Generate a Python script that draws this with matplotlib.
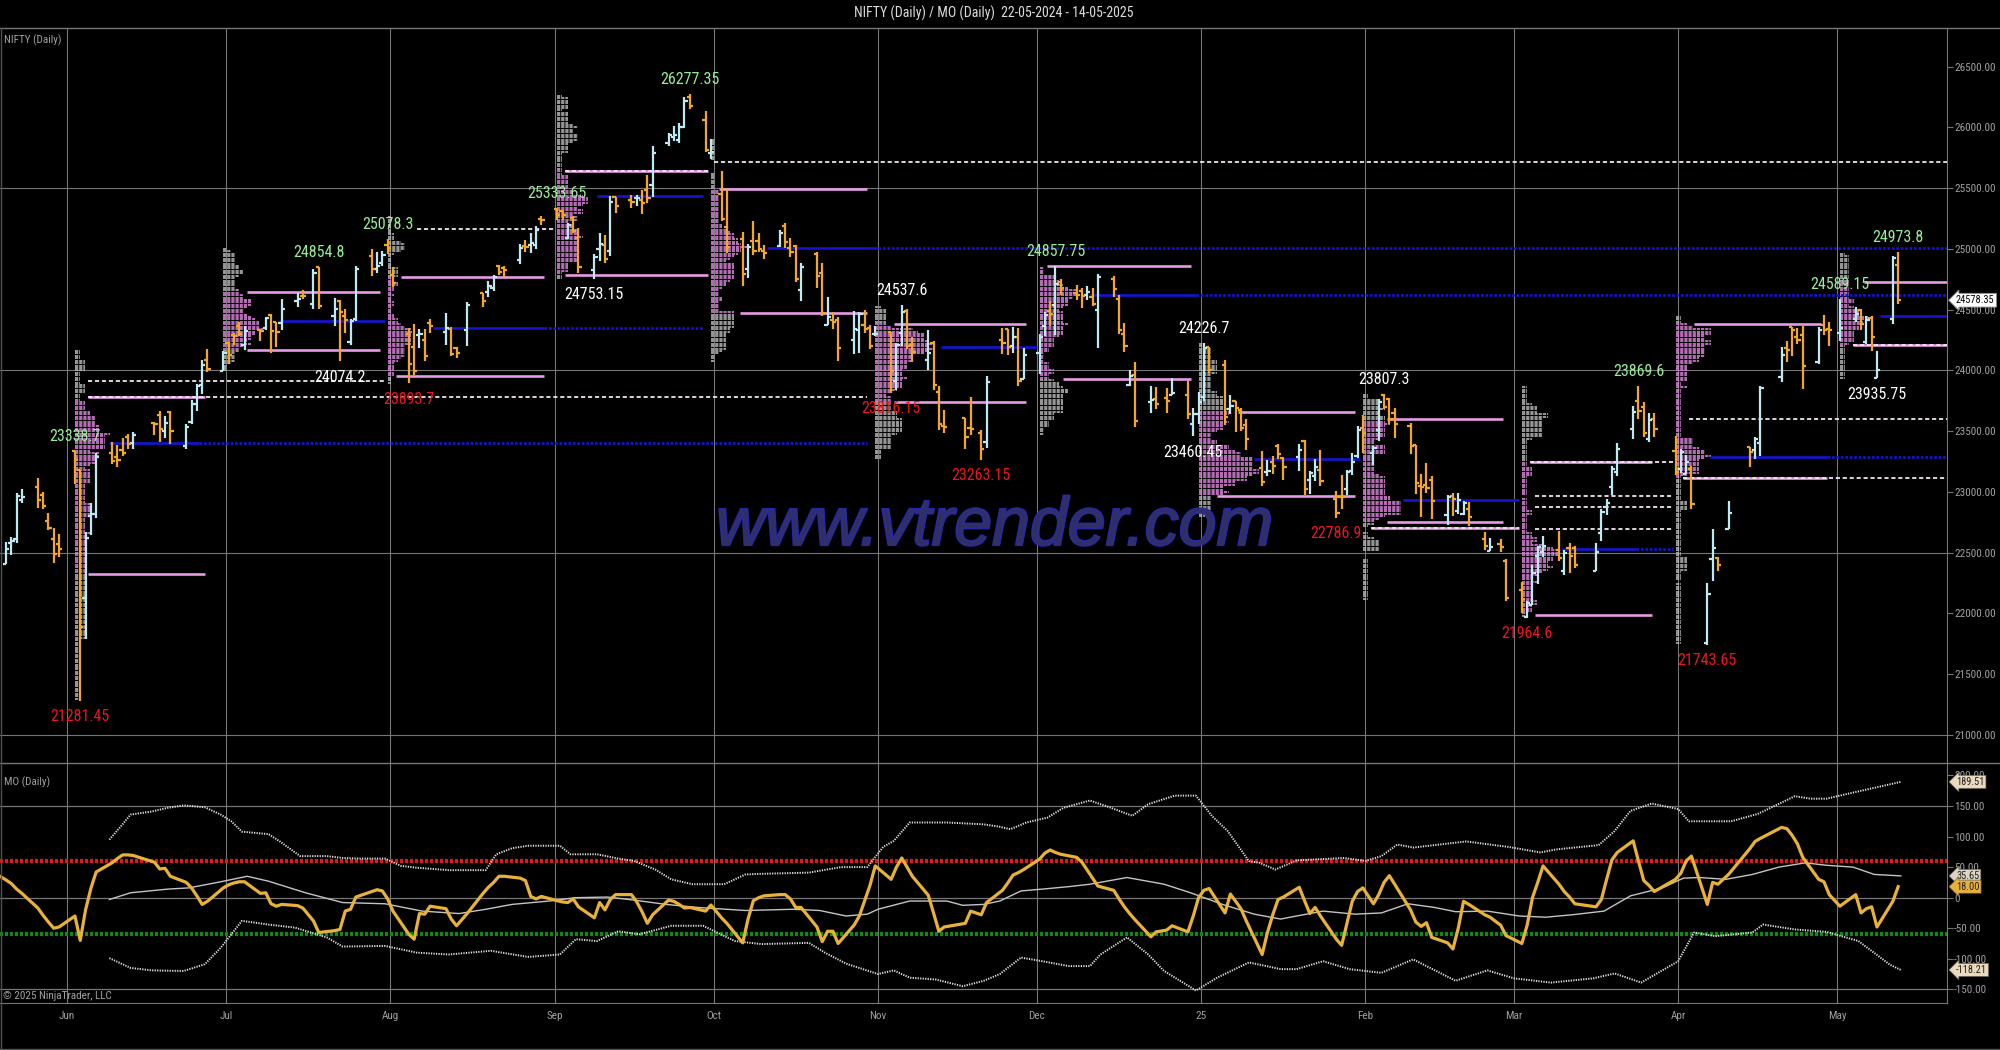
import numpy as np
import pandas as pd
import matplotlib
matplotlib.use('Agg')
import matplotlib.pyplot as plt
import matplotlib.dates as mdates
import matplotlib.patheffects as pe
from matplotlib import font_manager
from matplotlib.collections import LineCollection
from matplotlib.lines import Line2D
from matplotlib.transforms import blended_transform_factory

plt.rcParams['lines.scale_dashes'] = False
installed = {f.name for f in font_manager.fontManager.ttflist}
NARROW = next((n for n in ['Liberation Sans Narrow', 'Roboto Condensed', 'DejaVu Sans Condensed']
               if n in installed), 'DejaVu Sans')
plt.rcParams['font.family'] = [NARROW, 'DejaVu Sans']

# NSE trading days in the window (holidays removed, Saturday budget session added)
holidays = ['2024-05-20', '2024-06-17', '2024-07-17', '2024-08-15', '2024-10-02', '2024-11-15',
            '2024-11-20', '2024-12-25', '2025-02-26', '2025-03-14', '2025-03-31', '2025-04-10',
            '2025-04-14', '2025-04-18', '2025-05-01']
dates = pd.bdate_range('2024-05-17', '2025-05-13', freq='C', holidays=holidays)
dates = dates.union(pd.DatetimeIndex(['2025-02-01']))

opens = [
    22415, 22404, 22577, 22614, 22931, 23039, 22977, 22763, 22617, 22568,
    23338, 23180, 22128, 22799, 22822, 23319, 23284, 23344, 23454, 23400, 23571, 23630, 23500, 23661, 23382, 23577, 23723, 23882, 24086,
    23993, 24229, 24292, 24370, 24213, 24329, 24351, 24460, 24397, 24388, 24573, 24616, 24544, 24854, 24446, 24569, 24445, 24231, 24423, 24943, 24839, 24887,
    25031, 24789, 24303, 24190, 24289, 24249, 24387, 24320, 24342, 24184, 24335, 24636, 24649, 24681, 24863, 24845, 24906, 25025, 25031, 25035, 25250,
    25333, 25313, 25090, 25251, 25094, 24823, 24999, 25034, 24986, 25430, 25407, 25417, 25402, 25487, 25526, 25873, 25921, 25899, 26005, 26248, 26061,
    25788, 25453, 25182, 25084, 24832, 25066, 25067, 24985, 25023, 25186, 25009, 25027, 24665, 24956, 24799, 24378, 24413, 24418, 24251, 24329, 24371, 24350,
    24303, 24316, 23917, 24309, 24490, 24208, 24087, 24226, 23822, 23542, 23605, 23530, 23488, 23412, 24254, 24343, 24205, 24274, 23927,
    24141, 24368, 24489, 24539, 24729, 24634, 24653, 24621, 24604, 24498, 24753, 24585, 24298, 23877, 23961, 23738, 23769, 23776, 23801, 23797, 23561,
    23638, 23783, 24196, 24046, 23680, 23747, 23675, 23552, 23195, 23166, 23250, 23377, 23277, 23290, 23422, 23099, 23128, 23184, 22940, 22960, 23027, 23170, 23297,
    23529, 23319, 23510, 23802, 23762, 23650, 23544, 23384, 23051, 23056, 23096, 22810, 22964, 22847, 22821, 22857, 22609, 22516, 22569, 22433,
    22195, 21974, 22073, 22476, 22509, 22522, 22346, 22536, 22542, 22353, 22662, 22875, 23037, 23168, 23515, 23752, 23701, 23433, 23600,
    23341, 23193, 23150, 23190, 21758, 22447, 22460, 22695, 23368, 23344, 23402, 23949, 24185, 24358, 24278, 24289, 24070, 24371, 24342,
    24312, 24420, 24501, 24233, 24432, 23936, 24420, 24864]
highs = [
    22502, 22591, 22630, 22994, 23026, 23111, 22999, 22826, 22706, 22654,
    23338.7, 23180, 22670, 22910, 23320, 23412, 23389, 23442, 23481, 23490, 23579, 23664, 23624, 23667, 23558, 23754, 23890, 24087, 24174,
    24164, 24236, 24309, 24401, 24363, 24345, 24444, 24461, 24403, 24592, 24635, 24661, 24838, 24854.8, 24595, 24583, 24504, 24426, 24861, 25000, 24972, 24985,
    25078.3, 24852, 24350, 24383, 24338, 24341, 24420, 24473, 24360, 24197, 24564, 24639, 24734, 24788, 24867, 24858, 25044, 25073, 25130, 25193, 25268,
    25333.65, 25322, 25216, 25275, 25169, 24958, 25131, 25114, 25433, 25431, 25446, 25442, 25482, 25612, 25849, 25956, 26012, 26033, 26251, 26277.35, 26135,
    25908, 25639, 25485, 25143, 25044, 25234, 25134, 25029, 25160, 25212, 25093, 25030, 24886, 24978, 24882, 24604, 24481, 24440, 24493, 24485, 24498, 24372,
    24368, 24317, 24229, 24537.6, 24503, 24276, 24337, 24242, 23874, 23676, 23607, 23781, 23507, 23956, 24352, 24343, 24355, 24346, 24188,
    24302, 24481, 24573, 24857.75, 24751, 24705, 24678, 24692, 24675, 24792, 24781, 24624, 24394, 24005, 24066, 23870, 23868, 23855, 23939, 23915, 23690,
    23823, 24226.7, 24196, 24090, 23795, 23752, 23690, 23597, 23341, 23265, 23294, 23391, 23292, 23391, 23426, 23170, 23271, 23347, 23007, 23138, 23183, 23322, 23547,
    23632, 23382, 23763, 23807.3, 23774, 23695, 23569, 23390, 23145, 23236, 23134, 22974, 22993, 22993, 22924, 22921, 22668, 22625, 22613, 22450,
    22262, 22105, 22395, 22557, 22634, 22677, 22522, 22577, 22558, 22577, 22858, 22941, 23217, 23403, 23709, 23869.6, 23737, 23646, 23649,
    23459, 23350, 23307, 23215, 22254, 22697, 22469, 22924, 23368, 23452, 23872, 24190, 24243, 24359, 24348, 24365, 24355, 24458, 24396,
    24589.15, 24526, 24510, 24450, 24447, 24164, 24945, 24973.8]
lows = [
    22346, 22404, 22483, 22578, 22908, 22871, 22859, 22686, 22417, 22465,
    23062, 21281.45, 21792, 22643, 22789, 23227, 23207, 23296, 23354, 23354, 23472, 23413, 23443, 23398, 23350, 23562, 23670, 23805, 23986,
    23993, 24056, 24207, 24281, 24169, 24241, 24332, 24142, 24194, 24331, 24522, 24588, 24504, 24508, 24362, 24074.2, 24307, 24211, 24411, 24775, 24799, 24857,
    24956, 24687, 23893.7, 23960, 24185, 24080, 24311, 24212, 24117, 24100, 24205, 24523, 24607, 24655, 24784, 24772, 24875, 24974, 24965, 24999, 25199,
    25236, 25236, 25084, 25128, 24801, 24753.15, 24897, 24885, 24941, 25292, 25336, 25352, 25286, 25376, 25427, 25847, 25887, 25871, 25998, 26151, 25794,
    25739, 25230, 24967, 24694, 24757, 24948, 24979, 24920, 25018, 25008, 24930, 24729, 24568, 24680, 24446, 24378, 24341, 24074, 24135, 24141, 24307, 24173,
    24280, 23816.15, 23843, 24204, 24179, 24067, 24005, 23839, 23510, 23484, 23350, 23465, 23263.15, 23359, 24135, 24125, 24146, 23873, 23927,
    23970, 24280, 24366, 24296, 24621, 24580, 24511, 24584, 24528, 24181, 24602, 24303, 24150, 23870, 23537, 23647, 23685, 23654, 23801, 23599, 23460.45,
    23563, 23752, 23976, 23552, 23638, 23496, 23503, 23344, 23047, 23134, 23146, 23272, 23100, 23171, 22977, 22981, 23091, 23050, 22786.9, 22858, 22977, 23139, 23277,
    23318, 23222, 23423, 23680, 23556, 23443, 23316, 22987, 22798, 22992, 22775, 22725, 22802, 22815, 22813, 22720, 22519, 22514, 22508, 22105,
    22005, 21964.6, 22068, 22246, 22465, 22429, 22315, 22330, 22377, 22353, 22599, 22808, 22974, 23133, 23434, 23601, 23452, 23412, 23450,
    23136, 23158, 23146, 22857, 21743.65, 22271, 22353, 22695, 23207, 23273, 23299, 23904, 24072, 24120, 24216, 23848, 24054, 24291, 24199,
    24239, 24401, 24332, 24220, 24164, 23935.75, 24379, 24548]
closes = [
    22466, 22529, 22598, 22968, 22957, 22932, 22888, 22705, 22489, 22531,
    23264, 21885, 22620, 22821, 23290, 23259, 23265, 23323, 23399, 23466, 23558, 23516, 23567, 23501, 23538, 23721, 23869, 24045, 24011,
    24142, 24124, 24287, 24302, 24324, 24321, 24433, 24324, 24316, 24502, 24587, 24613, 24801, 24531, 24509, 24479, 24414, 24406, 24835, 24836, 24857, 24951,
    25011, 24718, 24056, 23993, 24298, 24117, 24368, 24347, 24139, 24144, 24541, 24573, 24699, 24770, 24812, 24823, 25011, 25018, 25052, 25152, 25236,
    25279, 25280, 25199, 25145, 24852, 24936, 25041, 24918, 25389, 25357, 25384, 25419, 25378, 25416, 25791, 25939, 25940, 26004, 26216, 26179, 25811,
    25797, 25250, 25015, 24796, 25013, 24982, 24998, 24964, 25128, 25057, 24971, 24750, 24854, 24781, 24472, 24436, 24399, 24181, 24339, 24467, 24341, 24205,
    24304, 23995, 24213, 24484, 24199, 24148, 24141, 23883, 23559, 23533, 23454, 23519, 23350, 23907, 24222, 24195, 24275, 23914, 24131,
    24276, 24457, 24467, 24708, 24678, 24619, 24610, 24642, 24549, 24768, 24668, 24336, 24199, 23952, 23588, 23753, 23728, 23750, 23813, 23645, 23645,
    23743, 24189, 24005, 23616, 23708, 23689, 23527, 23432, 23086, 23176, 23213, 23312, 23203, 23345, 23025, 23155, 23205, 23092, 22829, 22957, 23163, 23250, 23508,
    23482, 23361, 23739, 23696, 23603, 23560, 23382, 23072, 23045, 23031, 22929, 22960, 22945, 22933, 22913, 22796, 22553, 22548, 22545, 22125,
    22119, 22083, 22337, 22545, 22553, 22460, 22498, 22471, 22397, 22509, 22834, 22908, 23191, 23350, 23658, 23669, 23487, 23592, 23519,
    23166, 23332, 23250, 22904, 22162, 22536, 22399, 22829, 23329, 23437, 23852, 24126, 24167, 24329, 24247, 24039, 24329, 24336, 24334,
    24347, 24461, 24380, 24414, 24274, 24008, 24925, 24578.35]
mo = [
    50, 29, 23, 14, 7, -17, -29, -40, -50, -48,
    -30, -70, -20, 15, 42, 57, 64, 70, 70, 69, 58, 47, 48, 35, 25, 16, 3, -11, -6,
    16, 21, 24, 26, 26, 7, 8, -10, -14, -11, -13, -17, -38, -57, -54, -52, -22, -19, 1, 10, 13, 11,
    -2, -22, -60, -68, -26, -27, -14, -18, -35, -46, -26, 7, 17, 25, 35, 35, 32, 28, 2, -2, 2,
    -5, -7, -8, -2, -15, -33, -8, -20, -3, 5, 5, -7, -23, -42, -28, -4, -6, -11, -17, -16, -22,
    -12, -33, -42, -74, -35, -5, 0, 3, 5, 5, -2, -16, -16, -48, -72, -55, -55, -75, -45, -30, -5, 20,
    52, 30, 50, 65, 50, 35, 4, -25, -55, -48, -42, -22, -28, -8, 12, 24, 37, 41, 46,
    63, 73, 78, 74, 71, 66, 58, 45, 32, 19, 12, -2, -15, -26, -36, -64, -56, -53, -46, -56, -30,
    0, 12, 15, -25, 6, -6, -18, -38, -93, -57, -28, -3, 1, 17, -5, -26, -16, -30, -68, -78, -42, -6, 10,
    16, -10, 5, 25, 36, 22, -20, -40, -47, -41, -65, -74, -84, -50, -6, -11, -28, -32, -45, -62,
    -75, -45, 0, 25, 52, 22, 10, 1, -10, -15, -3, 30, 62, 74, 93, 60, 28, 20, 10,
    30, 40, 60, 68, -11, 25, 22, 38, 80, 92, 97, 115, 113, 102, 88, 66, 30, 26, 5,
    -14, 5, -25, -18, -15, -48, -6, 18]

# MO envelope
upper_dates = ['2024-06-09', '2024-06-11', '2024-06-13', '2024-06-17', '2024-06-20', '2024-06-23', '2024-06-27', '2024-06-30',
               '2024-07-02', '2024-07-04', '2024-07-09', '2024-07-11', '2024-07-15', '2024-07-20', '2024-07-23', '2024-07-26',
               '2024-07-31', '2024-08-03', '2024-08-06', '2024-08-12', '2024-08-19', '2024-08-21', '2024-08-24', '2024-08-27',
               '2024-09-02', '2024-09-04', '2024-09-09', '2024-09-13', '2024-09-16', '2024-09-20', '2024-09-23', '2024-09-27',
               '2024-10-03', '2024-10-07', '2024-10-10', '2024-10-19', '2024-10-25', '2024-10-30', '2024-11-02', '2024-11-04',
               '2024-11-07', '2024-11-14', '2024-11-21', '2024-11-24', '2024-11-26', '2024-11-29', '2024-12-03', '2024-12-06',
               '2024-12-11', '2024-12-15', '2024-12-19', '2024-12-22', '2024-12-27', '2024-12-31', '2025-01-03', '2025-01-06',
               '2025-01-10', '2025-01-12', '2025-01-15', '2025-01-19', '2025-01-28', '2025-02-01', '2025-02-04', '2025-02-07',
               '2025-02-10', '2025-02-20', '2025-02-28', '2025-03-06', '2025-03-09', '2025-03-17', '2025-03-20', '2025-03-23',
               '2025-03-27', '2025-04-01', '2025-04-03', '2025-04-11', '2025-04-16', '2025-04-23', '2025-04-26', '2025-04-29',
               '2025-05-04', '2025-05-13']
upper_vals = [95, 115, 136, 141, 147, 151, 148, 136, 125, 108, 104, 93, 68, 68, 65, 64, 64, 52, 49, 45,
              45, 71, 81, 85, 85, 71, 71, 64, 60, 46, 30, 22, 22, 38, 39, 41, 50, 50, 83, 93,
              123, 123, 120, 116, 112, 123, 131, 147, 159, 147, 134, 153, 167, 167, 134, 109, 60, 57, 46, 61,
              65, 60, 68, 87, 82, 92, 83, 74, 79, 86, 109, 142, 154, 145, 125, 125, 137, 166, 162, 162,
              172, 189.51]
lower_dates = ['2024-06-09', '2024-06-13', '2024-06-17', '2024-06-23', '2024-06-27', '2024-06-30', '2024-07-04', '2024-07-09',
               '2024-07-14', '2024-07-20', '2024-07-23', '2024-07-31', '2024-08-06', '2024-08-12', '2024-08-20', '2024-08-27',
               '2024-09-02', '2024-09-05', '2024-09-09', '2024-09-13', '2024-09-17', '2024-09-23', '2024-09-29', '2024-10-05',
               '2024-10-10', '2024-10-19', '2024-10-22', '2024-10-26', '2024-11-01', '2024-11-04', '2024-11-07', '2024-11-12',
               '2024-11-17', '2024-11-21', '2024-11-24', '2024-11-28', '2024-12-02', '2024-12-07', '2024-12-11', '2024-12-13',
               '2024-12-18', '2024-12-22', '2024-12-25', '2024-12-31', '2025-01-04', '2025-01-10', '2025-01-16', '2025-01-19',
               '2025-01-24', '2025-01-29', '2025-02-04', '2025-02-10', '2025-02-18', '2025-02-24', '2025-03-01', '2025-03-08',
               '2025-03-16', '2025-03-20', '2025-03-25', '2025-04-01', '2025-04-04', '2025-04-08', '2025-04-15', '2025-04-17',
               '2025-04-23', '2025-04-29', '2025-05-05', '2025-05-11', '2025-05-13']
lower_vals = [-99, -115, -119, -120, -109, -82, -38, -44, -49, -65, -80, -79, -90, -93, -87, -97, -93, -68, -71, -55,
              -60, -46, -46, -71, -76, -74, -90, -108, -125, -119, -131, -134, -145, -136, -125, -98, -104, -112, -112, -93,
              -65, -93, -120, -152, -131, -106, -117, -117, -104, -117, -123, -101, -136, -119, -132, -139, -132, -124, -139, -104,
              -57, -63, -57, -44, -52, -56, -71, -110, -118.21]
mid_dates = ['2024-06-09', '2024-06-13', '2024-06-20', '2024-06-24', '2024-06-30', '2024-07-05', '2024-07-09', '2024-07-16',
             '2024-07-23', '2024-07-31', '2024-08-07', '2024-08-14', '2024-08-19', '2024-08-24', '2024-08-31', '2024-09-05',
             '2024-09-11', '2024-09-16', '2024-09-22', '2024-09-28', '2024-10-07', '2024-10-16', '2024-10-21', '2024-10-26',
             '2024-10-30', '2024-11-01', '2024-11-07', '2024-11-14', '2024-11-17', '2024-11-21', '2024-11-24', '2024-11-28',
             '2024-12-02', '2024-12-07', '2024-12-11', '2024-12-18', '2024-12-25', '2024-12-30', '2025-01-05', '2025-01-11',
             '2025-01-16', '2025-01-19', '2025-01-24', '2025-01-30', '2025-02-04', '2025-02-09', '2025-02-14', '2025-02-18',
             '2025-02-24', '2025-03-02', '2025-03-07', '2025-03-12', '2025-03-18', '2025-03-23', '2025-03-29', '2025-04-02',
             '2025-04-05', '2025-04-10', '2025-04-15', '2025-04-20', '2025-04-25', '2025-04-29', '2025-05-04', '2025-05-08',
             '2025-05-13']
mid_vals = [-3, 8, 14, 16, 26, 35, 27, 8, -8, -10, -22, -26, -19, -11, -5.5, 0, 1, -4, -11, -16,
            -21, -19, -21, -30, -27, -19, -5.5, -5.5, -12.5, -11, -5.5, 11, 14, 18, 22, 33, 22, 8, -11, -27,
            -35, -30, -22, -27, -25, -10, -16, -23, -22, -30, -32, -28, -22, 3, 16, 32, 33, 30, 38, 50,
            57, 53, 50, 38, 35.65]

# monthly profiles: value area
profile_months = ['2024-06', '2024-07', '2024-08', '2024-09', '2024-10', '2024-11',
                  '2024-12', '2025-01', '2025-02', '2025-03', '2025-04', '2025-05']
profile_width_px = [35, 40, 27, 31, 38, 59, 38, 60, 38, 36, 35, 28]
va_high = [23779, 24646, 24767, 25642, 25491, 24380, 24862, 23661, 23598, 23249, 24380, 24726]
va_low = [22322, 24168, 23957, 24783, 24471, 23743, 23927, 22969, 22756, 21988, 23118, 24210]

END = '2025-05-23'
# (level, start, solid end, dashed end)
poc_lines = [
    (23406, '2024-06-09', '2024-06-26', '2024-10-30'),
    (24407, '2024-07-11', '2024-07-31', None),
    (24347, '2024-08-09', '2024-08-30', '2024-09-29'),
    (25438, '2024-09-09', '2024-09-29', None),
    (25005, '2024-10-11', '2024-11-01', END),
    (24196, '2024-11-13', '2024-12-01', None),
    (24621, '2024-12-11', '2024-12-31', END),
    (23269, '2025-01-11', '2025-01-31', None),
    (22934, '2025-02-08', '2025-03-02', None),
    (22531, '2025-03-10', '2025-03-24', '2025-03-31'),
    (23291, '2025-04-07', '2025-04-29', END),
    (24451, '2025-05-09', END, None)]
va_lines = [
    (23779, '2024-06-05', '2024-06-27'), (22322, '2024-06-05', '2024-06-27'),
    (24646, '2024-07-05', '2024-07-30'), (24168, '2024-07-05', '2024-07-30'),
    (24767, '2024-08-03', '2024-08-30'), (23957, '2024-08-02', '2024-08-30'),
    (25642, '2024-09-03', '2024-09-30'), (24783, '2024-09-03', '2024-09-30'),
    (25491, '2024-10-02', '2024-10-30'), (24471, '2024-10-06', '2024-10-30'),
    (24380, '2024-11-04', '2024-11-29'), (23743, '2024-11-04', '2024-11-29'),
    (24862, '2024-12-03', '2024-12-30'), (23927, '2024-12-06', '2024-12-30'),
    (23661, '2025-01-08', '2025-01-30'), (22969, '2025-01-04', '2025-01-30'),
    (23598, '2025-02-05', '2025-02-27'), (22756, '2025-02-05', '2025-02-27'),
    (22701, '2025-02-02', '2025-03-02'),
    (23249, '2025-03-04', '2025-03-27'), (21988, '2025-03-05', '2025-03-27'),
    (24380, '2025-04-04', '2025-04-28'), (23118, '2025-04-02', '2025-04-29'),
    (24726, '2025-05-06', END), (24210, '2025-05-04', END)]
naked_lines = [
    (25713, '2024-10-01', END), (25642, '2024-09-03', '2024-09-30'), (25162, '2024-08-06', '2024-09-01'),
    (23916, '2024-06-05', '2024-07-31'), (23779, '2024-06-05', '2024-10-30'), (22701, '2025-02-02', '2025-03-02'),
    (23249, '2025-03-04', '2025-03-31'), (22969, '2025-03-05', '2025-03-31'), (22879, '2025-03-05', '2025-03-31'),
    (22696, '2025-03-05', '2025-03-31'), (23598, '2025-04-03', END), (23118, '2025-04-02', END),
    (24210, '2025-05-04', END)]

# swing labels: (bar date, which end, colour)
swing_labels = [
    ('2024-06-03', 'high', 'green'), ('2024-06-04', 'low', 'red'), ('2024-07-19', 'high', 'green'),
    ('2024-07-23', 'low', 'white'), ('2024-08-01', 'high', 'green'), ('2024-08-05', 'low', 'red'),
    ('2024-09-02', 'high', 'green'), ('2024-09-09', 'low', 'white'), ('2024-09-27', 'high', 'green'),
    ('2024-11-04', 'low', 'red'), ('2024-11-06', 'high', 'white'), ('2024-11-21', 'low', 'red'),
    ('2024-12-05', 'high', 'green'), ('2024-12-31', 'low', 'white'), ('2025-01-02', 'high', 'white'),
    ('2025-01-27', 'low', 'red'), ('2025-02-05', 'high', 'white'), ('2025-03-04', 'low', 'red'),
    ('2025-03-25', 'high', 'green'), ('2025-04-07', 'low', 'red'), ('2025-05-02', 'high', 'green'),
    ('2025-05-09', 'low', 'white'), ('2025-05-13', 'high', 'green')]

price_ticks = np.arange(21000, 26501, 500)
mo_ticks = [-150, -100, -50, 0, 50, 100, 150, 200]
month_starts = pd.date_range('2024-06-01', '2025-05-01', freq='MS')
month_labels = ['Jun', 'Jul', 'Aug', 'Sep', 'Oct', 'Nov', 'Dec', '25', 'Feb', 'Mar', 'Apr', 'May']

assert len(dates) == len(opens) == len(highs) == len(lows) == len(closes) == len(mo)

# ---- styling constants ----
W, H = 2000, 1050
PX_PER_DAY = 5.30
BAR_SHIFT = -0.5
TICK = 0.6
UP, DOWN = '#bfe9f2', '#f5a623'
PINK, PINK_ROW, GRAY_ROW = '#e69be6', '#d884d8', '#b4b4b4'
BLUE, NAKED = '#1414d2', '#f3e4f0'
GRID, TXT = '#767676', '#a0a0a0'
COLORS = {'green': '#98ee98', 'red': '#f0141e', 'white': '#ffffff'}


def xnum(d):
    return mdates.date2num(pd.Timestamp(d))


def fy(py):
    return 1 - py / H


x = mdates.date2num(dates) + BAR_SHIFT
o, h, l, c = map(np.asarray, (opens, highs, lows, closes))
x_left = xnum('2024-06-01') - 67 / PX_PER_DAY
x_right = x_left + 1947 / PX_PER_DAY

fig = plt.figure(figsize=(20, 10.5), dpi=100, facecolor='black')
ax1 = fig.add_axes([0, fy(763), 1947 / W, fy(28) - fy(763)])
ax2 = fig.add_axes([0, fy(1003), 1947 / W, fy(763) - fy(1003)])
for ax in (ax1, ax2):
    ax.set_facecolor('black')
    ax.set_xlim(x_left, x_right)
    for s in ('left', 'top'):
        ax.spines[s].set_visible(False)
    ax.spines['right'].set_color(GRID)
    ax.spines['bottom'].set_color(GRID)
    ax.yaxis.tick_right()
    ax.tick_params(axis='y', colors=GRID, labelcolor=TXT, labelsize=8, length=4, width=0.8, pad=1)
    for m in month_starts:
        ax.axvline(xnum(m), color=GRID, lw=0.8, zorder=1)
ax1.spines['bottom'].set_visible(False)

# ---- price panel ----
ax1.set_ylim(20769.6, 26818.5)
ax1.set_yticks(price_ticks)
ax1.set_yticklabels([f'{v:.2f}' for v in price_ticks])
ax1.set_xticks([])
for lvl in price_ticks[::3]:
    ax1.axhline(lvl, color=GRID, lw=0.8, zorder=1)

# monthly profiles
periods = dates.to_period('M')
for i, m in enumerate(profile_months):
    sel = np.where(periods == pd.Period(m))[0]
    lo, hi = l[sel], h[sel]
    levels = np.arange(np.floor(lo.min() / 20) * 20, hi.max() + 20, 20)
    counts = ((lo[None, :] <= levels[:, None]) & (hi[None, :] >= levels[:, None])).sum(1)
    keep = counts > 0
    levels, counts = levels[keep], counts[keep]
    widths = counts / counts.max() * profile_width_px[i] / PX_PER_DAY
    x0 = x[sel[0]]
    segs = [[(x0, p), (x0 + w, p)] for p, w in zip(levels, widths)]
    cols = [PINK_ROW if va_low[i] <= p <= va_high[i] else GRAY_ROW for p in levels]
    ax1.add_collection(LineCollection(segs, colors=cols, linewidths=1.2,
                                      linestyles=[(0, (2.3, 0.7))], zorder=2))

# reference lines
for lvl, s, e in va_lines:
    ax1.hlines(lvl, xnum(s), xnum(e), colors=PINK, lw=1.9, zorder=3)
for lvl, s, e in naked_lines:
    ax1.hlines(lvl, xnum(s), xnum(e), colors=NAKED, lw=1.3, linestyles=[(0, (3, 2))], zorder=3)
for lvl, s, se, de in poc_lines:
    ax1.hlines(lvl, xnum(s), xnum(se), colors=BLUE, lw=1.9, zorder=3)
    if de:
        ax1.hlines(lvl, xnum(se), xnum(de), colors=BLUE, lw=1.9, linestyles=[(0, (2, 1.2))], zorder=3)

# OHLC bars
col = np.where(c >= o, UP, DOWN)
body = [[(xi, lo_), (xi, hi_)] for xi, lo_, hi_ in zip(x, l, h)]
oticks = [[(xi - TICK, v), (xi, v)] for xi, v in zip(x, o)]
cticks = [[(xi, v), (xi + TICK, v)] for xi, v in zip(x, c)]
for segs in (body, oticks, cticks):
    ax1.add_collection(LineCollection(segs, colors=col, linewidths=1.6, capstyle='butt', zorder=4))

# swing labels
date_index = {d.strftime('%Y-%m-%d'): i for i, d in enumerate(dates)}
for d, end, cname in swing_labels:
    i = date_index[d]
    v = h[i] if end == 'high' else l[i]
    txt = f'{v:.2f}'.rstrip('0').rstrip('.')
    ax1.annotate(txt, (x[i], v), xytext=(0, 10.5 if end == 'high' else -11.5), textcoords='offset points',
                 ha='center', va='center', color=COLORS[cname], fontsize=11.5, zorder=7)

# watermark
ax1.text(xnum('2024-11-23'), 22564, 'www.vtrender.com', ha='center', va='baseline', fontsize=49,
         style='italic', family=['Liberation Sans', 'DejaVu Sans'], color='#30306a', alpha=0.9, zorder=6,
         path_effects=[pe.withStroke(linewidth=1.6, foreground='#2a2ac0')])

# last price marker
tr1 = blended_transform_factory(ax1.transAxes, ax1.transData)
ax1.text(1 + 9 / 1947, c[-1], f'{c[-1]:.2f}', transform=tr1, ha='left', va='center', fontsize=7.5,
         color='black', zorder=8, clip_on=False,
         bbox=dict(boxstyle='larrow,pad=0.18', fc='white', ec='#888888', lw=0.6))

# ---- MO panel ----
ax2.set_ylim(-172.4, 220.4)
ax2.set_yticks(mo_ticks)
ax2.set_yticklabels(['0' if v == 0 else f'{v:.2f}' for v in mo_ticks])
for lvl in (-150, 0, 150):
    ax2.axhline(lvl, color=GRID, lw=0.9, zorder=1)
ax2.axhline(60, color='#e01818', lw=3, ls=(0, (2.2, 1.4)), zorder=2)
ax2.axhline(-60, color='#0f8a12', lw=3, ls=(0, (2.2, 1.4)), zorder=2)
band_style = dict(color='#e2e2e2', lw=1.4, ls=(0, (0.9, 0.9)), zorder=3)
ax2.plot(mdates.date2num(pd.to_datetime(upper_dates)), upper_vals, **band_style)
ax2.plot(mdates.date2num(pd.to_datetime(lower_dates)), lower_vals, **band_style)
ax2.plot(mdates.date2num(pd.to_datetime(mid_dates)), mid_vals, color='#c4c4c4', lw=1.0, zorder=3)
ax2.plot(x, mo, color='#e8b23a', lw=2.3, solid_joinstyle='round', zorder=4)
ax2.set_xticks([xnum(m) for m in month_starts])
ax2.set_xticklabels(month_labels)
ax2.tick_params(axis='x', length=0, pad=6, labelsize=8, labelcolor=TXT)

tr2 = blended_transform_factory(ax2.transAxes, ax2.transData)
for val, fc in [(upper_vals[-1], '#ead9bd'), (mid_vals[-1], '#dcd3c4'), (mo[-1], '#e8b23a'), (lower_vals[-1], '#ead9bd')]:
    ax2.text(1 + 9 / 1947, val, f'{val:.2f}', transform=tr2, ha='left', va='center', fontsize=7.5,
             color='#202020', zorder=8, clip_on=False,
             bbox=dict(boxstyle='larrow,pad=0.15', fc=fc, ec='#706050', lw=0.5))

# ---- frame and captions ----
for y0 in (28, 763):
    fig.add_artist(Line2D([0, 1], [fy(y0), fy(y0)], color=GRID, lw=1.0))
fig.add_artist(Line2D([0.0005, 0.0005], [0, fy(28)], color='#505050', lw=1.0))
fig.add_artist(Line2D([0, 1], [0.0008, 0.0008], color='#505050', lw=1.0))
fig.text(994 / W, fy(13), 'NIFTY (Daily) / MO (Daily)  22-05-2024 - 14-05-2025', ha='center', va='center',
         color='#dcdcdc', fontsize=10)
fig.text(4 / W, fy(40), 'NIFTY (Daily)', ha='left', va='center', color=TXT, fontsize=8)
fig.text(4 / W, fy(782), 'MO (Daily)', ha='left', va='center', color=TXT, fontsize=8)
fig.text(3 / W, fy(996), '\u00a9 2025 NinjaTrader, LLC', ha='left', va='center', color=TXT, fontsize=8)

fig.savefig('out.png', dpi=100, facecolor='black')
